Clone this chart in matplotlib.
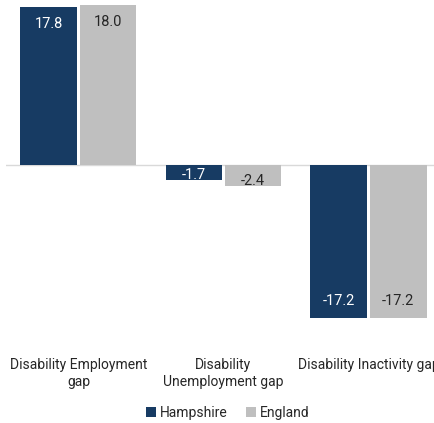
import numpy as np
import matplotlib.pyplot as plt

categories = ['Disability Employment\ngap', 'Disability\nUnemployment gap', 'Disability Inactivity gap']
hampshire = [17.8, -1.7, -17.2]
england = [18.0, -2.4, -17.2]

navy = '#173B63'
grey = '#BFBFBF'

plt.rcParams['font.family'] = ['Roboto', 'DejaVu Sans']

fig = plt.figure(figsize=(4.35, 4.23), dpi=100)
# plot area runs a little past the right edge, like the original
ax = fig.add_axes([6 / 435, 103 / 423, 1.0, 320 / 423])

x = np.arange(len(categories))
w = 0.39
b1 = ax.bar(x - 0.205, hampshire, w, color=navy, label='Hampshire')
b2 = ax.bar(x + 0.205, england, w, color=grey, label='England')

ax.set_xlim(-0.5, 2.5)
ax.set_ylim(-(320 - 165) / 8.89, 165 / 8.89)
ax.axhline(0, color='#D9D9D9', lw=1, zorder=0)

# labels sit just inside the bar end (short bars get a smaller offset)
for bars, vals, col in [(b1, hampshire, 'white'), (b2, england, '#262626')]:
    for bar, v in zip(bars, vals):
        off = 12.5 if abs(v) > 5 else 4
        cx = bar.get_x() + bar.get_width() / 2
        ax.annotate(f'{v:.1f}', (cx, v), xytext=(0, -off if v > 0 else off),
                    textcoords='offset points', ha='center', va='center',
                    color=col, fontsize=10.5)

for s in ax.spines.values():
    s.set_visible(False)
ax.set_yticks([])
ax.set_xticks(x)
ax.set_xticklabels(categories, fontsize=10, color='#262626', linespacing=1.35)
ax.tick_params(axis='x', length=0, pad=27)

fig.legend(loc='center', bbox_to_anchor=(228 / 435, 1 - 413 / 423), ncol=2, frameon=False,
           fontsize=10, handlelength=0.7, handleheight=0.7, handletextpad=0.3, columnspacing=1.3,
           labelcolor='#262626')

fig.savefig('out.png', dpi=100)
